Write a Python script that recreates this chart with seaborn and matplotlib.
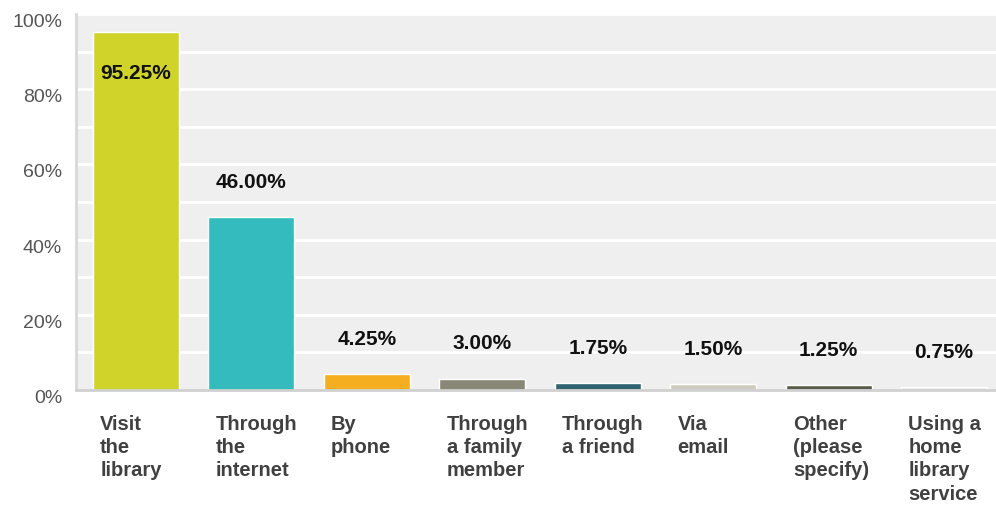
import seaborn as sns
import pandas as pd
import numpy as np
import matplotlib.pyplot as plt
from matplotlib.ticker import FuncFormatter

categories = ['Visit\nthe\nlibrary', 'Through\nthe\ninternet', 'By\nphone',
              'Through\na family\nmember', 'Through\na friend', 'Via\nemail',
              'Other\n(please\nspecify)', 'Using a\nhome\nlibrary\nservice']
values = [95.25, 46.00, 4.25, 3.00, 1.75, 1.50, 1.25, 0.75]
colors = ['#D0D32A', '#33BBBE', '#F5AE1F', '#878876', '#2F6470', '#CFCCBF', '#5B5D4B', '#EAEAE8']

data = pd.DataFrame({'cat': categories, 'val': values})

sns.set_style('white')
plt.rcParams['font.family'] = ['Liberation Sans', 'DejaVu Sans']

fig = plt.figure(figsize=(9.96, 5.05), dpi=100)
ax = fig.add_axes([76 / 996, 115 / 505, 920 / 996, 376 / 505])
ax.set_facecolor('#EFEFEF')

sns.barplot(data=data, x='cat', y='val', hue='cat', palette=colors, legend=False,
            width=0.745, saturation=1, ax=ax)

ax.set_ylim(0, 100)
ax.set_xlim(-0.52, 7.45)
ax.set_yticks(np.arange(0, 101, 10))
ax.yaxis.set_major_formatter(FuncFormatter(lambda v, p: f'{int(v)}%' if v % 20 == 0 else ''))
ax.grid(axis='y', color='white', linewidth=2)
ax.set_axisbelow(True)
ax.tick_params(axis='y', length=0, pad=10, labelsize=14, labelcolor='#555555')
for lab in ax.get_yticklabels():
    lab.set_va('top')

# labels sit left-aligned just inside each bar's left edge
ax.set_xticks(np.arange(len(categories)) - 0.31)
ax.set_xticklabels(categories, ha='left', fontweight='bold', fontsize=14.5,
                   color='#404040', linespacing=1.28)
ax.tick_params(axis='x', length=0, pad=18)
ax.set_xlabel('')
ax.set_ylabel('')

for s in ['top', 'right']:
    ax.spines[s].set_visible(False)
ax.spines['left'].set_color('#D8D8D8')
ax.spines['left'].set_linewidth(2)
ax.spines['bottom'].set_color('#D0D0D0')
ax.spines['bottom'].set_linewidth(2)

for i, v in enumerate(values):
    y = v - 11 if v > 90 else v + 9.3
    ax.text(i, y, f'{v:.2f}%', ha='center', va='center', fontweight='bold',
            fontsize=15, color='#111111')

plt.savefig('out.png', dpi=100)
